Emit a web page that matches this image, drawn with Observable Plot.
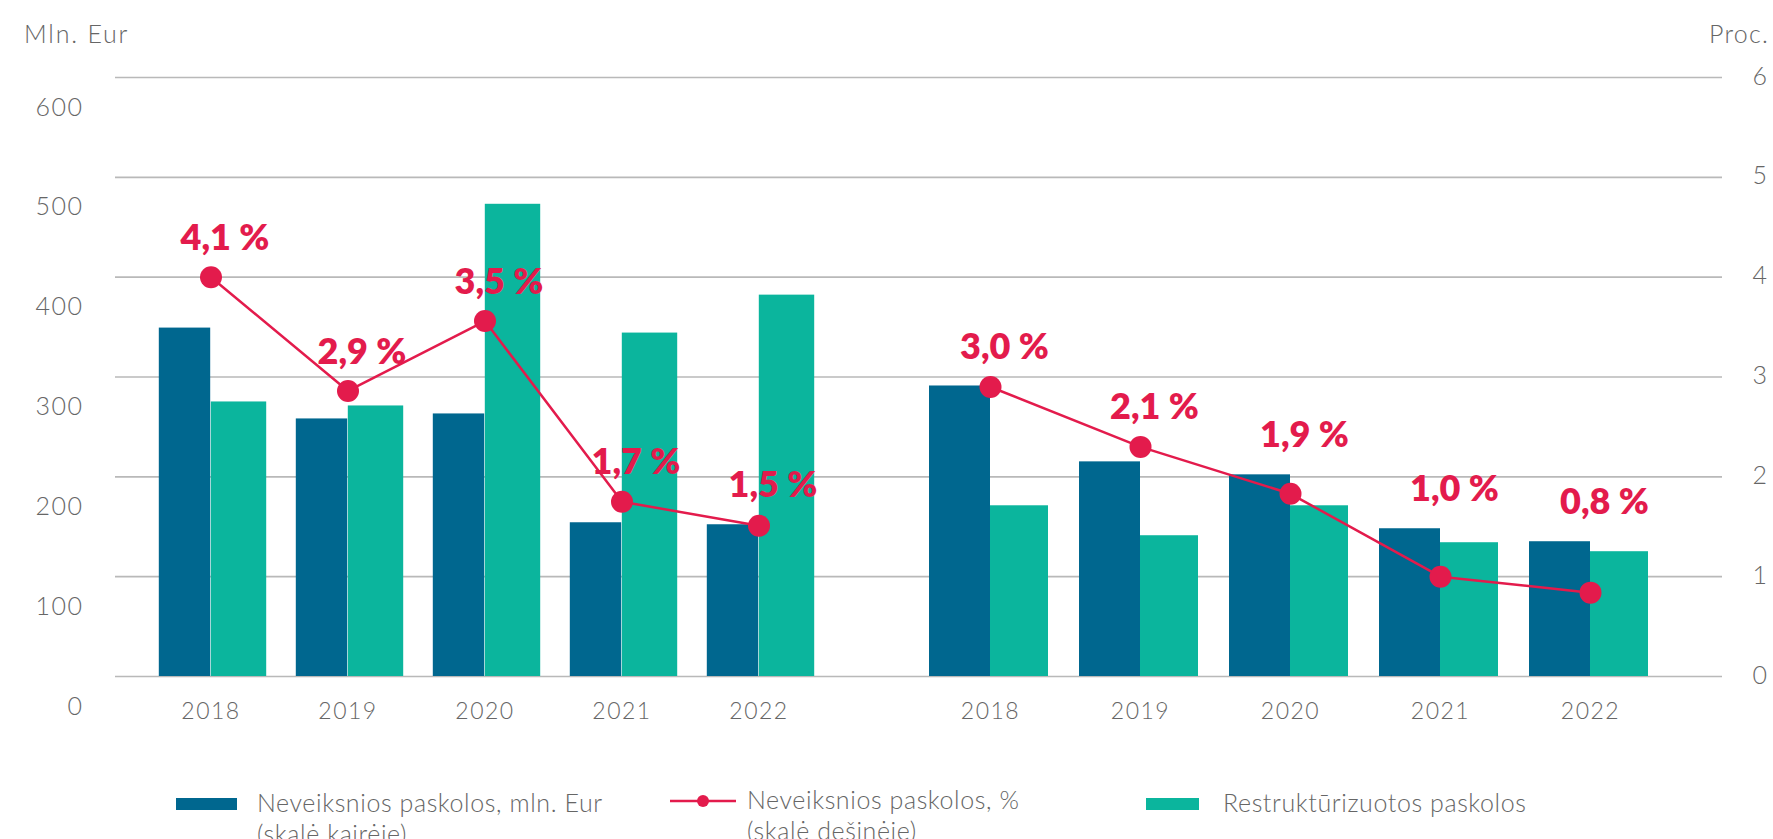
<!DOCTYPE html>
<html>
<head>
<meta charset="utf-8">
<script src="https://cdn.jsdelivr.net/npm/d3@7"></script>
<script src="https://cdn.jsdelivr.net/npm/@observablehq/plot@0.6"></script>
<style>
  html, body { margin: 0; padding: 0; background: #fff; }
  #wrap { position: relative; width: 1773px; height: 839px; overflow: hidden; font-family: Lato, "Open Sans", sans-serif; font-weight: 300; color: #666; }
  #left, #right { position: absolute; top: 0; }
  #left { left: 0; }
  #right { left: 875px; }
  .lab { position: absolute; font-size: 25px; line-height: 31px; white-space: nowrap; letter-spacing: 0.6px; }
  .sw { position: absolute; height: 12px; }
  svg g[aria-label="y-axis tick label"] text, svg g[aria-label="x-axis tick label"] text { letter-spacing: 1.5px; }
</style>
</head>
<body>
<div id="wrap">
  <div id="left"></div>
  <div id="right"></div>
  <div class="lab" style="left:24px; top:18px; letter-spacing:1.8px;">Mln. Eur</div>
  <div class="lab" style="right:4px; top:18px; letter-spacing:1.2px;">Proc.</div>

  <div class="sw" style="left:176px; top:798px; width:61px; background:#00678f;"></div>
  <div class="lab" style="left:257px; top:787px;">Neveiksnios paskolos, mln. Eur<br>(skalė kairėje)</div>

  <svg style="position:absolute; left:668px; top:790px;" width="70" height="24">
    <line x1="2" y1="11" x2="68" y2="11" stroke="#e31b4c" stroke-width="2.5"></line>
    <circle cx="35" cy="11" r="6" fill="#e31b4c"></circle>
  </svg>
  <div class="lab" style="left:747px; top:784px;">Neveiksnios paskolos, %<br>(skalė dešinėje)</div>

  <div class="sw" style="left:1146px; top:798px; width:53px; background:#0bb59d;"></div>
  <div class="lab" style="left:1223px; top:787px;">Restruktūrizuotos paskolos</div>
</div>
<script>
// ---- data ----
const years = ["2018", "2019", "2020", "2021", "2022"];
const groups = ["I", "II"];

// Neveiksnios paskolos, mln. Eur (left scale)
const nplI  = [349, 258, 263, 154, 152];
const nplII = [291, 215, 202, 148, 135];

// Restruktūrizuotos paskolos, mln. Eur (left scale)
const restrI  = [275, 271, 473, 344, 382];
const restrII = [171, 141, 171, 134, 125];

// Neveiksnios paskolos, % (right scale, as plotted)
const pctI  = [4.0, 2.86, 3.56, 1.75, 1.51];
const pctII = [2.9, 2.3, 1.83, 1.0, 0.84];

// printed labels
const labelsI  = ["4,1 %", "2,9 %", "3,5 %", "1,7 %", "1,5 %"];
const labelsII = ["3,0 %", "2,1 %", "1,9 %", "1,0 %", "0,8 %"];

const yTicks = [0, 100, 200, 300, 400, 500, 600];

// ---- tables ----
const table = (npl, restr, pct, labels) => years.map((y, i) => ({
  year: y, npl: npl[i], restr: restr[i], pct: pct[i], label: labels[i]
}));
const rowsI = table(nplI, restrI, pctI, labelsI);
const rowsII = table(nplII, restrII, pctII, labelsII);

const DARK = "#00678f", TEAL = "#0bb59d", RED = "#e31b4c", GRID = "#b9b9b9";
const pctY = d => d.pct * 100;

function panel(rows, cfg) {
  const inner = cfg.width - cfg.marginLeft - cfg.marginRight - cfg.insetLeft - cfg.insetRight;
  const half = inner / years.length / 2;
  const axes = [];
  if (cfg.side === "left") {
    axes.push(Plot.axisY(yTicks, { anchor: "left", tickSize: 0, tickPadding: 32, dy: 30, fontSize: 25, fontWeight: 300, fill: "#666", label: null }));
  } else {
    axes.push(Plot.axisY(yTicks, { anchor: "right", tickSize: 0, tickPadding: 30, dy: -1, fontSize: 25, fontWeight: 300, fill: "#666", label: null, tickFormat: d => d / 100 }));
  }
  return Plot.plot({
    width: cfg.width,
    height: 760,
    marginTop: 77,
    marginBottom: 84,
    marginLeft: cfg.marginLeft,
    marginRight: cfg.marginRight,
    style: { fontFamily: "Lato, 'Open Sans', sans-serif", fontWeight: 300, color: "#666", background: "transparent", overflow: "visible" },
    x: { domain: years, padding: 0, insetLeft: cfg.insetLeft, insetRight: cfg.insetRight },
    y: { domain: [0, 600] },
    marks: [
      Plot.ruleY(yTicks, { stroke: GRID, strokeWidth: 1.6 }),
      Plot.barY(rows, { x: "year", y: "npl", fill: DARK, insetLeft: half - cfg.darkW, insetRight: half }),
      Plot.barY(rows, { x: "year", y: "restr", fill: TEAL, insetLeft: half, insetRight: half - cfg.tealW }),
      Plot.line(rows, { x: "year", y: pctY, stroke: RED, strokeWidth: 2.5 }),
      Plot.dot(rows, { x: "year", y: pctY, r: 11, fill: RED }),
      Plot.text(rows, {
        x: "year", y: d => Math.max(d.pct * 100, d.npl), text: "label",
        dx: 14, dy: -39, fontSize: 36, fontWeight: 800, fill: RED
      }),
      Plot.axisX({ anchor: "bottom", tickSize: 0, tickPadding: 26, fontSize: 23, fontWeight: 300, fill: "#666", label: null }),
      ...axes
    ]
  });
}

document.getElementById("left").appendChild(panel(rowsI, {
  side: "left", width: 875, marginLeft: 115, marginRight: 0, insetLeft: 25, insetRight: 47, darkW: 52, tealW: 56
}));
document.getElementById("right").appendChild(panel(rowsII, {
  side: "right", width: 898, marginLeft: 0, marginRight: 51, insetLeft: 40, insetRight: 57, darkW: 61, tealW: 58
}));
</script>
</body>
</html>
